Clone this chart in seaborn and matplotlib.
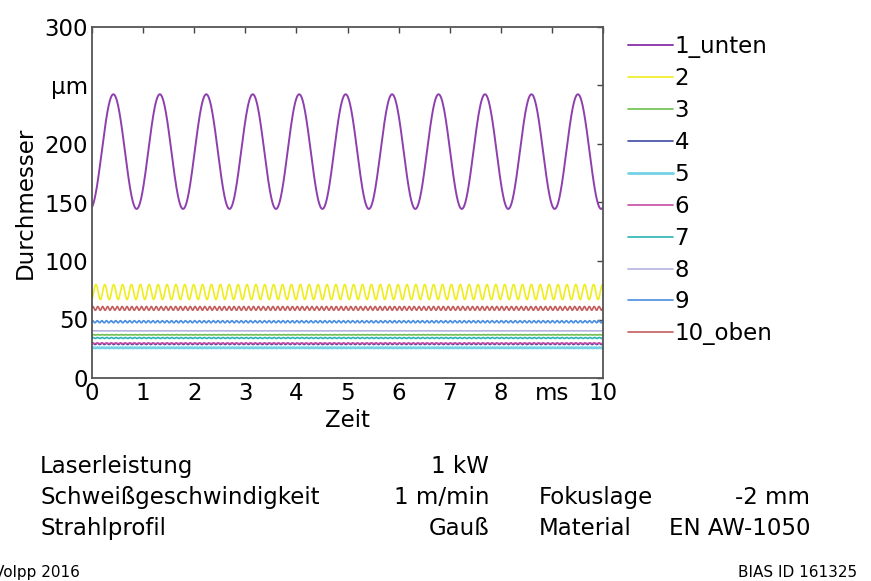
import numpy as np
import pandas as pd
import matplotlib
matplotlib.use("Agg")
import matplotlib.pyplot as plt
import seaborn as sns

# Spot diameters along the keyhole depth, 10 ms of signal
series = ["1_unten", "2", "3", "4", "5", "6", "7", "8", "9", "10_oben"]
mean_um = [193.5, 73.5, 36.9, 29.2, 25.8, 29.6, 34.2, 40.3, 48.1, 59.5]
amp_um = [49.0, 6.4, 0.15, 0.6, 0.15, 0.25, 0.4, 0.1, 0.9, 1.6]
freq_khz = [1.1, 5.75, 11.0, 11.0, 11.0, 11.0, 11.0, 11.0, 11.0, 10.5]
phase_rad = [-1.32, -1.2, 0.0, 0.5, 0.0, 1.0, 0.3, 0.0, 0.8, 0.4]
colors = ["#8e3fae", "#eeee1c", "#6cc04c", "#3c4aa0", "#74d2e6",
          "#c84aa4", "#2ab4b4", "#b4b4e0", "#4a8ee0", "#c45c5c"]
widths = [1.4, 1.2, 1.2, 1.2, 2.0, 1.2, 1.2, 1.2, 1.2, 1.2]

x_ticks = [0, 1, 2, 3, 4, 5, 6, 7, 8, 9, 10]
x_labels = ["0", "1", "2", "3", "4", "5", "6", "7", "8", "ms", "10"]
y_ticks = [0, 50, 100, 150, 200, 250, 300]
y_labels = ["0", "50", "100", "150", "200", "µm", "300"]

t_ms = np.linspace(0, 10, 4001)
frames = []
for name, m, a, f, p in zip(series, mean_um, amp_um, freq_khz, phase_rad):
    frames.append(pd.DataFrame({
        "Zeit": t_ms,
        "Durchmesser": m + a * np.sin(2 * np.pi * f * t_ms + p),
        "Ebene": name,
    }))
df = pd.concat(frames, ignore_index=True)

sns.set_theme(style="white")
plt.rcParams["font.family"] = ["DejaVu Sans"]
plt.rcParams["text.color"] = "black"
plt.rcParams["axes.labelcolor"] = "black"

FS = 16.5
W, H = 871, 581
fig = plt.figure(figsize=(W / 100, H / 100), dpi=100)
ax = fig.add_axes([92 / W, 1 - 378 / H, (603 - 92) / W, (378 - 27) / H])

sns.lineplot(data=df, x="Zeit", y="Durchmesser", hue="Ebene",
             hue_order=series, palette=colors, estimator=None, sort=False,
             legend=False, ax=ax)
for line, lw in zip(ax.lines, widths):
    line.set_linewidth(lw)

ax.set_xlim(0, 10)
ax.set_ylim(0, 300)
ax.set_xticks(x_ticks)
ax.set_xticklabels(x_labels)
ax.set_yticks(y_ticks)
ax.set_yticklabels(y_labels)
ax.tick_params(direction="in", length=4, width=1.0, color="#444444",
               labelsize=FS, labelcolor="black", top=True, right=True,
               pad=3)
for s in ax.spines.values():
    s.set_visible(True)
    s.set_color("#555555")
    s.set_linewidth(1.3)
ax.set_xlabel("Zeit", fontsize=FS, labelpad=3, color="black")
ax.set_ylabel("Durchmesser", fontsize=FS, labelpad=5, color="black")

ax.legend(handles=ax.lines, labels=series, loc="upper left",
          bbox_to_anchor=(628 / W, 1 - 35 / H), bbox_transform=fig.transFigure,
          frameon=False, fontsize=FS, handlelength=1.95, handletextpad=0.08,
          labelspacing=0.39, borderpad=0, borderaxespad=0,
          labelcolor="black")


def put(x, y, s, ha="left", size=FS):
    fig.text(x / W, 1 - y / H, s, ha=ha, va="baseline", fontsize=size,
             color="black")


put(40, 473, "Laserleistung")
put(489, 473, "1 kW", ha="right")
put(40, 504, "Schweißgeschwindigkeit")
put(489, 504, "1 m/min", ha="right")
put(539, 504, "Fokuslage")
put(810, 504, "-2 mm", ha="right")
put(40, 535, "Strahlprofil")
put(489, 535, "Gauß", ha="right")
put(539, 535, "Material")
put(810, 535, "EN AW-1050", ha="right")
put(-6, 577, "Volpp 2016", size=11)
put(857, 577, "BIAS ID 161325", ha="right", size=11)

fig.savefig("out.png", dpi=100, facecolor="white")
